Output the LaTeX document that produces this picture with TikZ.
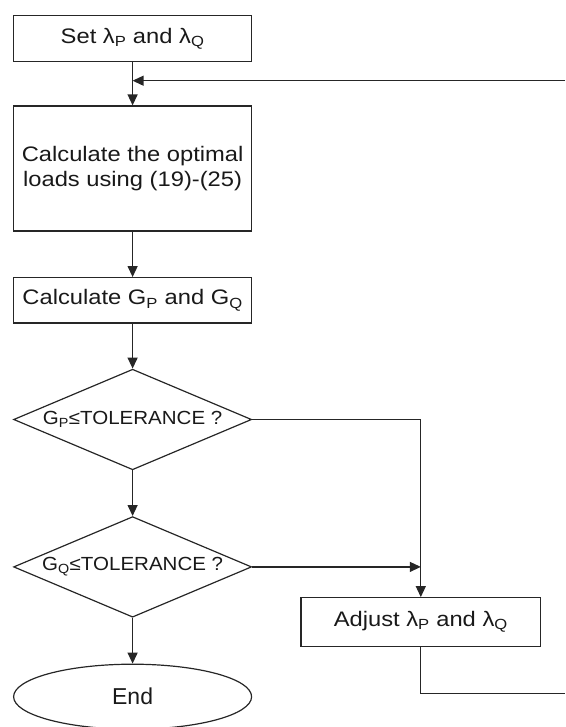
\documentclass[tikz,border=0pt]{standalone}
\usepackage{fontspec}
\setmainfont{Liberation Sans}
\newfontfamily\boxfnt[FakeStretch=1.13]{Liberation Sans}
\newfontfamily\dfnt[FakeStretch=1.08]{Liberation Sans}
\usetikzlibrary{shapes.geometric,arrows.meta}
\begin{document}
\begin{tikzpicture}[x=1pt,y=-1pt,
  line/.style={line width=1.3pt, draw=black!85},
  arr/.style={line, -{Triangle[length=11pt,width=10pt]}},
  procbox/.style={draw=black!85, line width=1.2pt, rectangle, inner sep=0pt, align=center,
     text=black!90, font=\boxfnt\fontsize{21}{25}\selectfont},
  decbox/.style={draw=black!85, line width=1.2pt, diamond, aspect=2.38, inner sep=0pt,
     minimum width=238pt, minimum height=100.6pt, text=black!90, font=\dfnt\fontsize{19}{22}\selectfont},
  termbox/.style={draw=black!85, line width=1.2pt, ellipse, inner sep=0pt,
     minimum width=238pt, minimum height=65pt, text=black!90, font=\fontsize{23}{26}\selectfont}]
\useasboundingbox (0,0) rectangle (565,727);
\node[procbox, minimum width=238pt, minimum height=46pt] (set) at (132.6,38.7)
  {Set λ\textsubscript{P} and λ\textsubscript{Q}};
\node[procbox, minimum width=238pt, minimum height=125pt] (calc) at (132.6,168.5)
  {Calculate the optimal\\loads using (19)-(25)};
\node[procbox, minimum width=238pt, minimum height=45.3pt] (gcalc) at (132.6,300.3)
  {Calculate G\textsubscript{P} and G\textsubscript{Q}};
\node[decbox] (d1) at (132.6,419.5) {G\textsubscript{P}≤TOLERANCE ?};
\node[decbox] (d2) at (132.6,566.9) {G\textsubscript{Q}≤TOLERANCE ?};
\node[procbox, minimum width=239.5pt, minimum height=49pt] (adj) at (420.8,622.2)
  {Adjust λ\textsubscript{P} and λ\textsubscript{Q}};
\node[termbox] (end) at (132.6,696.7) {End};
\coordinate (fbin) at (565,80.7);
\coordinate (fbout) at (565,693.3);
\draw[arr] (set.south) -- (calc.north);
\draw[arr] (fbin) -- (fbin -| set.south);
\draw[arr] (calc.south) -- (gcalc.north);
\draw[arr] (gcalc.south) -- (d1.north);
\draw[arr] (d1.south) -- (d2.north);
\draw[arr] (d1.east) -| (adj.north);
\draw[arr] (d2.east) -- (d2.east -| adj.north);
\draw[line] (adj.south) |- (fbout);
\draw[arr] (d2.south) -- (end.north);
\end{tikzpicture}
\end{document}
